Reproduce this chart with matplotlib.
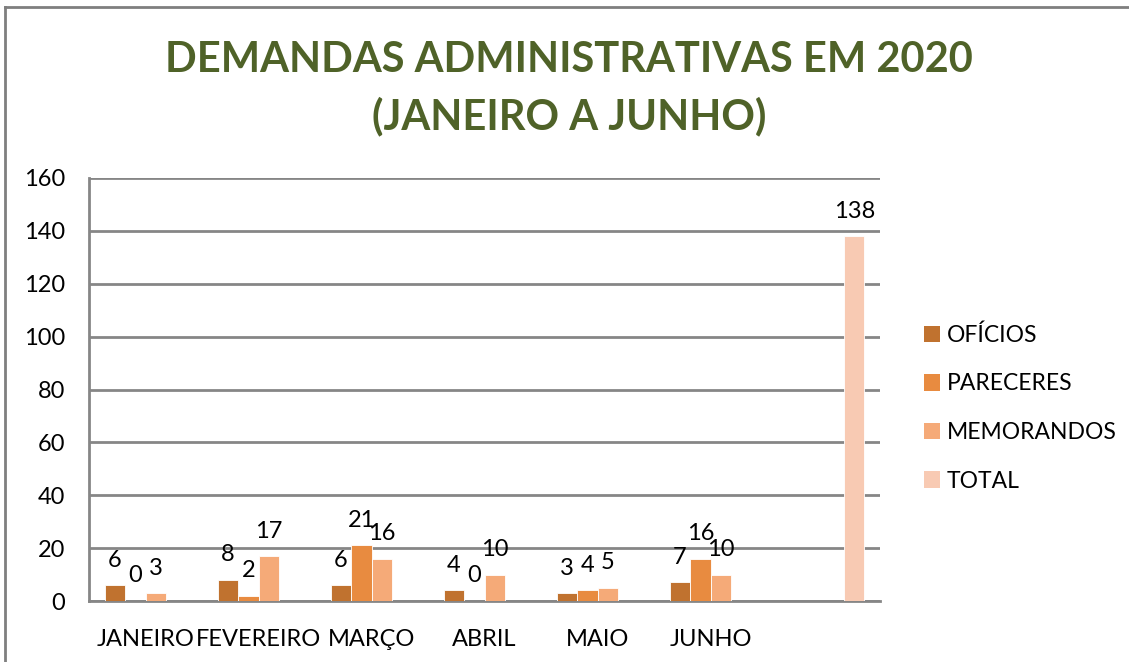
import matplotlib.pyplot as plt
import numpy as np
from matplotlib.patches import Patch
from matplotlib.lines import Line2D

# dados
meses = ['JANEIRO', 'FEVEREIRO', 'MARÇO', 'ABRIL', 'MAIO', 'JUNHO', '']
oficios = [6, 8, 6, 4, 3, 7, np.nan]
pareceres = [0, 2, 21, 0, 4, 16, np.nan]
memorandos = [3, 17, 16, 10, 5, 10, np.nan]
total = [np.nan, np.nan, np.nan, np.nan, np.nan, np.nan, 138]
series = ['OFÍCIOS', 'PARECERES', 'MEMORANDOS', 'TOTAL']
cores = ['#C0722F', '#E88B40', '#F5AA78', '#F8CAB3']

plt.rcParams['font.family'] = ['Lato', 'DejaVu Sans']

fig = plt.figure(figsize=(11.29, 6.62), dpi=100)
ax = fig.add_axes([89/1129, 61/662, 791/1129, 423/662])

x = np.arange(len(meses))
w = 0.181
for i, (vals, cor, nome) in enumerate(zip([oficios, pareceres, memorandos, total], cores, series)):
	pos = x + (i - 1.5) * w
	ax.bar(pos, vals, width=w, color=cor, edgecolor='white', linewidth=0.6, label=nome, zorder=3)
	for p, v in zip(pos, vals):
		if not np.isnan(v):
			ax.annotate('%d' % v, xy=(p, v), xytext=(0, 18), textcoords='offset points',
				ha='center', va='center', fontsize=17, color='black', zorder=4)

ax.set_xlim(-0.5, 6.5)
ax.set_ylim(0, 160)
ax.set_yticks(np.arange(0, 161, 20))
ax.set_xticks(x)
ax.set_xticklabels(meses)
ax.tick_params(axis='both', length=0, labelsize=17)
ax.tick_params(axis='x', pad=20)
ax.tick_params(axis='y', pad=17)
ax.grid(axis='y', color='#868686', linewidth=2, zorder=0)
for s in ['top', 'right']:
	ax.spines[s].set_visible(False)
for s in ['left', 'bottom']:
	ax.spines[s].set_color('#868686')
	ax.spines[s].set_linewidth(2)

handles = [Patch(facecolor=c, edgecolor='none') for c in cores]
fig.legend(handles, series, loc='center left', bbox_to_anchor=(903/1129, 1 - 408/662),
	frameon=False, fontsize=16.5, handlelength=0.7, handleheight=0.7, handletextpad=0.3,
	labelspacing=1.2)

fig.text(569/1129, 1 - 60/662, 'DEMANDAS ADMINISTRATIVAS EM 2020', ha='center', va='center',
	fontsize=30, fontweight='bold', color='#4F6228')
fig.text(569/1129, 1 - 116/662, '(JANEIRO A JUNHO)', ha='center', va='center',
	fontsize=30, fontweight='bold', color='#4F6228')

# moldura
fig.add_artist(Line2D([5/1129, 5/1129], [0, 1 - 7/662], color='#7F7F7F', linewidth=2))
fig.add_artist(Line2D([5/1129, 1], [1 - 7/662, 1 - 7/662], color='#7F7F7F', linewidth=2))

fig.savefig('out.png', dpi=100)
